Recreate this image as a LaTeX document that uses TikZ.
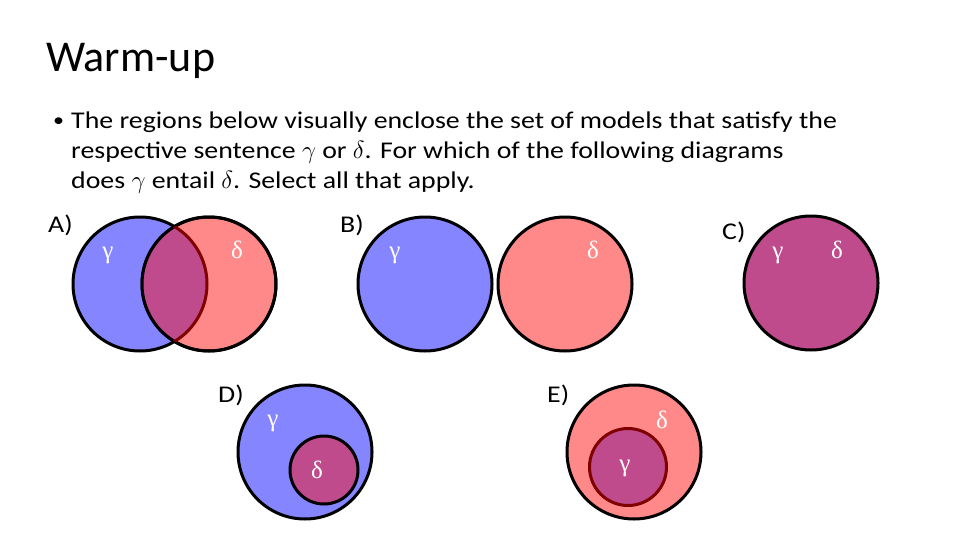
\documentclass[tikz,border=0pt]{standalone}
\usepackage{fontspec}
\setmainfont{Carlito}
\newfontfamily\bodyfont[FakeStretch=1.16]{Carlito}
\newfontfamily\greekfont{Liberation Serif}
\usepackage{tikz}
\definecolor{gblue}{RGB}{133,133,255}
\definecolor{dpink}{RGB}{255,136,136}
\definecolor{both}{RGB}{191,74,140}
\definecolor{rim}{RGB}{128,0,0}
\tikzstyle{venn}=[shape=circle,draw,line width=3pt,minimum size=134pt,inner sep=0pt]
\tikzstyle{lbl}=[anchor=base west,inner sep=0pt,font=\bodyfont\fontsize{24}{24}\selectfont]
\tikzstyle{gk}=[text=white,inner sep=0pt,font=\greekfont\fontsize{25}{25}\selectfont]

\begin{document}
\begin{tikzpicture}[x=1pt,y=-1pt]
            \useasboundingbox (0,0) rectangle (960,540);
            \node[anchor=base west,inner sep=0pt,font=\fontsize{44}{44}\selectfont] (title) at (46, 72) {Warm-up}
            ;
            \node[lbl, font=\bodyfont\fontsize{19}{19}\selectfont] (bullet) at (53, 127) {\textbullet}
            ;
            \node[lbl] (line1) at (71, 129) {The regions below visually enclose the set of models that satisfy the}
            ;
            \node[lbl] (line2) at (71, 159) {respective sentence $\gamma$ or $\delta$. For which of the following diagrams}
            ;
            \node[lbl] (line3) at (71, 189) {does $\gamma$ entail $\delta$. Select all that apply.}
            ;
            % A)
            \node[venn, fill=gblue] (Agam) at (140, 284) {}
            ;
            \node[venn, fill=dpink] (Adel) at (209, 284) {}
            ;
            \begin{scope}
              \clip (Agam.center) circle[radius=67pt];
              \fill[both] (Adel.center) circle[radius=67pt];
            \end{scope}
            \draw[line width=3pt] (Adel.center) circle[radius=67pt];
            \begin{scope}
              \clip (Adel.center) circle[radius=67pt];
              \draw[line width=3pt, rim] (Agam.center) circle[radius=67pt];
            \end{scope}
            \node[gk] (Ag) at (108, 255) {γ}
            ;
            \node[gk] (Ad) at (237, 250) {δ}
            ;
            \node[lbl] (Alab) at (48, 232) {A)}
            ;
            % B)
            \node[venn, fill=gblue] (Bgam) at (425, 284) {}
            ;
            \node[venn, fill=dpink] (Bdel) at (565, 284) {}
            ;
            \node[gk] (Bg) at (395, 255) {γ}
            ;
            \node[gk] (Bd) at (593, 250) {δ}
            ;
            \node[lbl] (Blab) at (340, 232) {B)}
            ;
            % C)
            \node[venn, fill=both] (Cboth) at (811, 283) {}
            ;
            \node[gk] (Cg) at (778, 255) {γ}
            ;
            \node[gk] (Cd) at (837, 250) {δ}
            ;
            \node[lbl] (Clab) at (722, 239) {C)}
            ;
            % D)
            \node[venn, fill=gblue] (Dgam) at (305, 452) {}
            ;
            \node[venn, fill=both, minimum size=68pt] (Ddel) at (324, 470) {}
            ;
            \node[gk] (Dg) at (273, 423) {γ}
            ;
            \node[gk] (Dd) at (317, 470) {δ}
            ;
            \node[lbl] (Dlab) at (218, 402) {D)}
            ;
            % E)
            \node[venn, fill=dpink] (Edel) at (634, 452) {}
            ;
            \node[venn, fill=both, draw=rim, minimum size=77pt] (Egam) at (628, 467) {}
            ;
            \node[gk] (Eg) at (625, 468) {γ}
            ;
            \node[gk] (Ed) at (662, 420) {δ}
            ;
            \node[lbl] (Elab) at (547, 402) {E)}
            ;
\end{tikzpicture}
\end{document}
